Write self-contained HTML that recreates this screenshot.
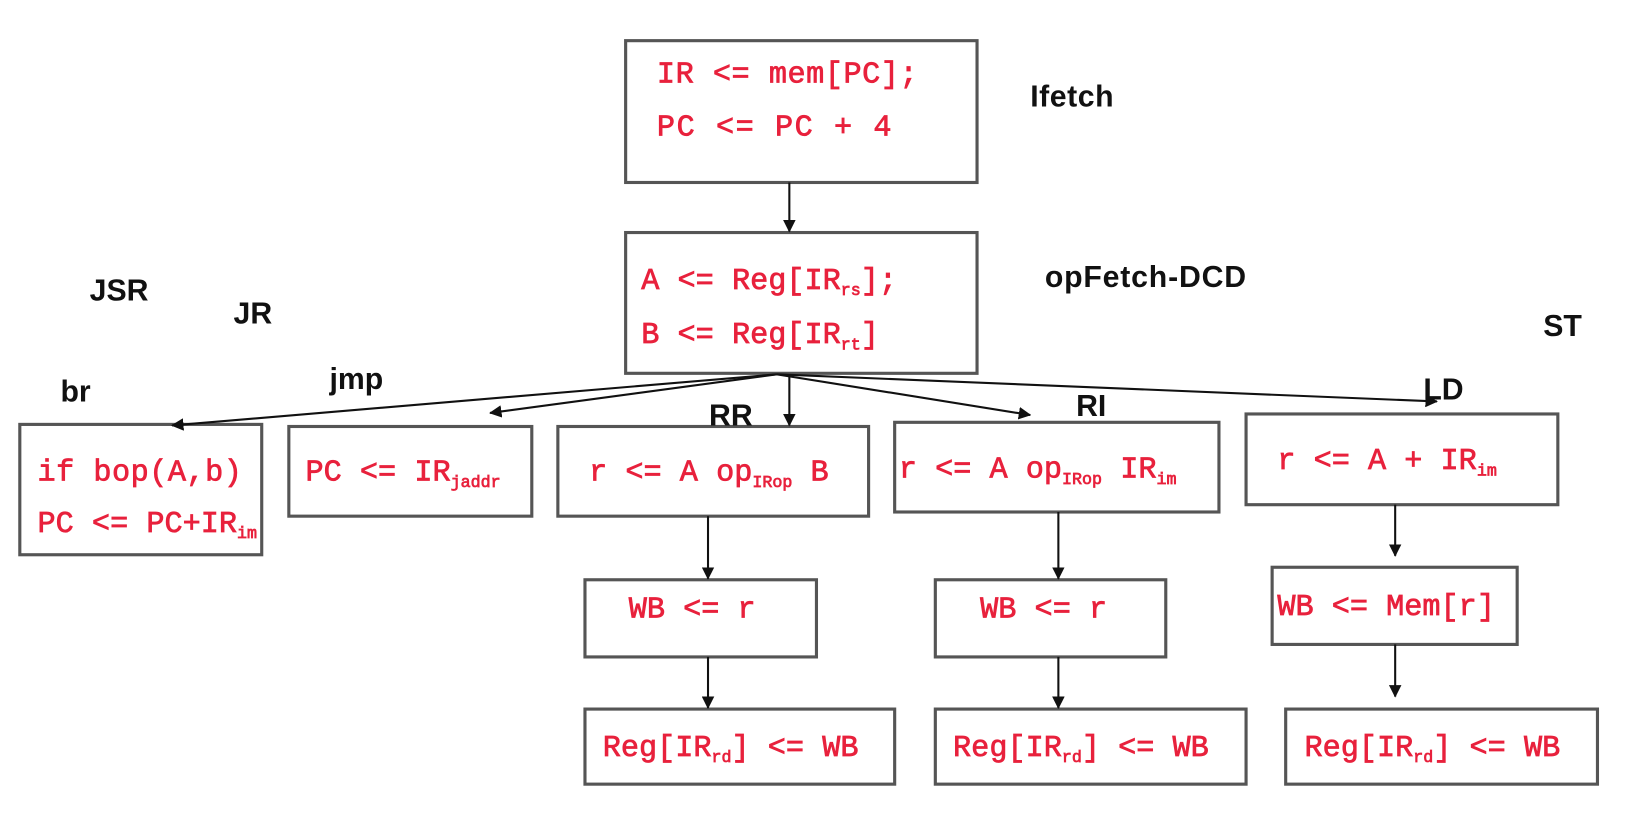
<!DOCTYPE html>
<html><head><meta charset="utf-8"><style>
html,body{margin:0;padding:0;background:#fff;}
svg{display:block}
.c{font-family:"Liberation Mono","Courier New",monospace;font-size:29px;fill:#e8213c;stroke:#e8213c;stroke-width:0.7;}
.s{font-size:16px;}
.l{font-family:"Liberation Sans",sans-serif;font-weight:bold;font-size:29px;fill:#111;}
rect{fill:#fff;stroke:#555;stroke-width:3;}
line{stroke:#111;stroke-width:2;}
</style></head><body>
<svg width="1635" height="817" viewBox="0 0 1568 783.5" preserveAspectRatio="none">
<defs><marker id="a" markerWidth="12" markerHeight="12" refX="11" refY="6" orient="auto" markerUnits="userSpaceOnUse"><path d="M0,0 L12,6 L0,12 z" fill="#111"/></marker></defs>
<rect x="600" y="39" width="337" height="136"/>
<rect x="600" y="223" width="337" height="135"/>
<rect x="19" y="407" width="232" height="125"/>
<rect x="277" y="409" width="233" height="86"/>
<rect x="535" y="409" width="298" height="86"/>
<rect x="858" y="405" width="311" height="86"/>
<rect x="1195" y="397" width="299" height="87"/>
<rect x="561" y="556" width="222" height="74"/>
<rect x="897" y="556" width="221" height="74"/>
<rect x="1220" y="544" width="235" height="74"/>
<rect x="561" y="680" width="297" height="72"/>
<rect x="897" y="680" width="298" height="72"/>
<rect x="1233" y="680" width="299" height="72"/>
<line x1="757" y1="175" x2="757" y2="222" marker-end="url(#a)"/>
<line x1="745" y1="359" x2="165" y2="408" marker-end="url(#a)"/>
<line x1="745" y1="359" x2="470" y2="396" marker-end="url(#a)"/>
<line x1="757" y1="359" x2="757" y2="408" marker-end="url(#a)"/>
<line x1="745" y1="359" x2="988" y2="398" marker-end="url(#a)"/>
<line x1="745" y1="359" x2="1378" y2="385" marker-end="url(#a)"/>
<line x1="679" y1="495" x2="679" y2="555" marker-end="url(#a)"/>
<line x1="679" y1="630" x2="679" y2="679" marker-end="url(#a)"/>
<line x1="1015" y1="491" x2="1015" y2="555" marker-end="url(#a)"/>
<line x1="1015" y1="630" x2="1015" y2="679" marker-end="url(#a)"/>
<line x1="1338" y1="484" x2="1338" y2="533" marker-end="url(#a)"/>
<line x1="1338" y1="618" x2="1338" y2="668" marker-end="url(#a)"/>
<text class="c" x="630" y="79" textLength="250">IR &lt;= mem[PC];</text>
<text class="c" x="630" y="130" textLength="225">PC &lt;= PC + 4</text>
<text class="c" x="615" y="277">A &lt;= Reg[IR<tspan class="s" dy="6">rs</tspan><tspan dy="-6">];</tspan></text>
<text class="c" x="615" y="329">B &lt;= Reg[IR<tspan class="s" dy="6">rt</tspan><tspan dy="-6">]</tspan></text>
<text class="c" x="36" y="461" textLength="196">if bop(A,b)</text>
<text class="c" x="36" y="510">PC &lt;= PC+IR<tspan class="s" dy="6">im</tspan></text>
<text class="c" x="293" y="461">PC &lt;= IR<tspan class="s" dy="6">jaddr</tspan></text>
<text class="c" x="565" y="461">r &lt;= A op<tspan class="s" dy="6">IRop</tspan><tspan dy="-6"> B</tspan></text>
<text class="c" x="862" y="458">r &lt;= A op<tspan class="s" dy="6">IRop</tspan><tspan dy="-6"> IR</tspan><tspan class="s" dy="6">im</tspan></text>
<text class="c" x="1225" y="450">r &lt;= A + IR<tspan class="s" dy="6">im</tspan></text>
<text class="c" x="603" y="592">WB &lt;= r</text>
<text class="c" x="940" y="592">WB &lt;= r</text>
<text class="c" x="1225" y="590">WB &lt;= Mem[r]</text>
<text class="c" x="578" y="725">Reg[IR<tspan class="s" dy="6">rd</tspan><tspan dy="-6">] &lt;= WB</tspan></text>
<text class="c" x="914" y="725">Reg[IR<tspan class="s" dy="6">rd</tspan><tspan dy="-6">] &lt;= WB</tspan></text>
<text class="c" x="1251" y="725">Reg[IR<tspan class="s" dy="6">rd</tspan><tspan dy="-6">] &lt;= WB</tspan></text>
<text class="l" x="988" y="102" textLength="80">Ifetch</text>
<text class="l" x="1002" y="275" textLength="193">opFetch-DCD</text>
<text class="l" x="86" y="288">JSR</text>
<text class="l" x="224" y="310">JR</text>
<text class="l" x="1480" y="322">ST</text>
<text class="l" x="58" y="385">br</text>
<text class="l" x="316" y="373">jmp</text>
<text class="l" x="680" y="408">RR</text>
<text class="l" x="1032" y="399">RI</text>
<text class="l" x="1365" y="383">LD</text>
</svg>
</body></html>
